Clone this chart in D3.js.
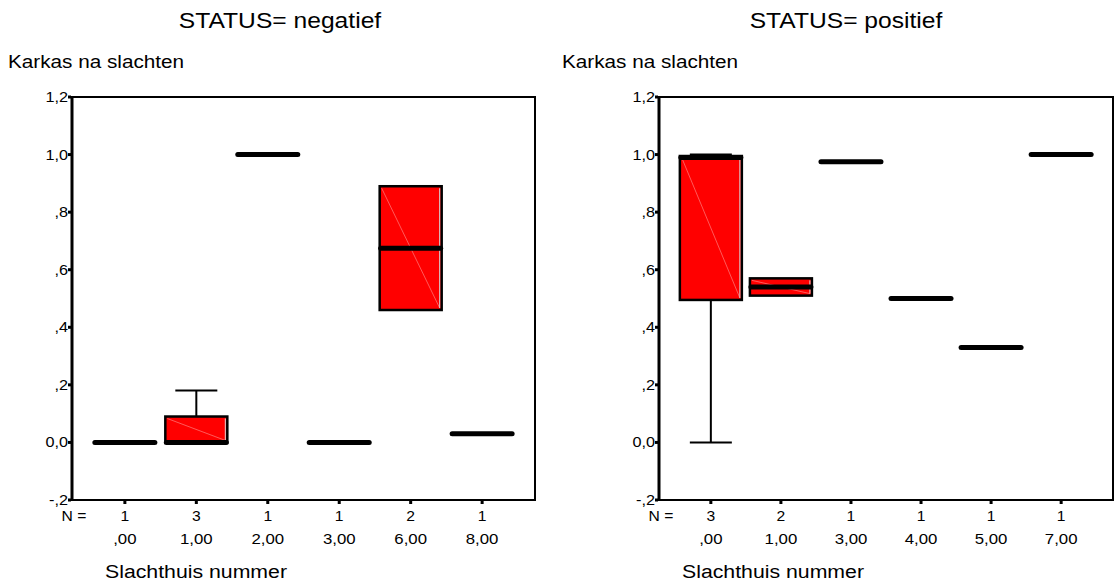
<!DOCTYPE html>
<html>
<head>
<meta charset="utf-8">
<script src="https://cdn.jsdelivr.net/npm/d3@7"></script>
<style>
  body { margin: 0; background: #fff; }
  text { font-family: "Liberation Sans", Arial, sans-serif; fill: #000; }
</style>
</head>
<body>
<div id="chart"></div>
<script>
// data
var negCats = [",00", "1,00", "2,00", "3,00", "6,00", "8,00"];
var negValues = [[0], [0, 0, 0.18], [1.0], [0], [0.46, 0.89], [0.03]];
var posCats = [",00", "1,00", "3,00", "4,00", "5,00", "7,00"];
var posValues = [[0, 0.99, 1.0], [0.51, 0.57], [0.975], [0.5], [0.33], [1.0]];
var yTicks = [-0.2, 0, 0.2, 0.4, 0.6, 0.8, 1.0, 1.2];
var yTickLabels = ["-,2", "0,0", ",2", ",4", ",6", ",8", "1,0", "1,2"];

var width = 1115, height = 583;

var svg = d3.select("#chart")
    .append("svg")
    .attr("width", width)
    .attr("height", height);

svg.append("rect").attr("width", width).attr("height", height).attr("fill", "#fff");

var y = d3.scaleLinear().domain([-0.2, 1.2]).range([500, 97]);

// text helper, the original lettering is a bit wide
function txt(sel, x, yy, s, size, anchor) {
    return sel.append("text")
        .attr("transform", "translate(" + x + "," + yy + ") scale(1.12,1)")
        .attr("text-anchor", anchor || "start")
        .style("font-size", size + "px")
        .text(s);
}

// tukey hinges
function stats(vals) {
    var v = vals.slice().sort(d3.ascending);
    var n = v.length;
    var half = Math.ceil(n / 2);
    return {
        min: v[0],
        max: v[n - 1],
        med: d3.median(v),
        q1: d3.median(v.slice(0, half)),
        q3: d3.median(v.slice(n - half))
    };
}

function panel(title, cats, values, p) {
    var g = svg.append("g");

    txt(g, p.titleX, 28, title, 22, "middle");
    txt(g, p.ylabX, 68, "Karkas na slachten", 18.5);
    txt(g, p.xlabX, 578, "Slachthuis nummer", 19);

    var x = d3.scalePoint().domain(cats).range([p.x0, p.x1]).padding(0.74);

    // frame
    g.append("path")
        .attr("d", "M" + p.x0 + "," + y(1.2) + "H" + p.x1 + "V" + y(-0.2) + "H" + p.x0)
        .attr("fill", "none").attr("stroke", "#000").attr("stroke-width", 2);
    g.append("line")
        .attr("x1", p.x0).attr("x2", p.x0)
        .attr("y1", y(1.2) - 1).attr("y2", y(-0.2) + 1)
        .attr("stroke", "#000").attr("stroke-width", 3);

    // y ticks
    yTicks.forEach(function (t, i) {
        g.append("rect").attr("x", p.x0 - 4).attr("y", y(t) - 1.5)
            .attr("width", 3).attr("height", 3).attr("fill", "#000");
        txt(g, p.x0 - 4, y(t) + 5, yTickLabels[i], 14.5, "end");
    });

    // x ticks, N counts, category labels
    txt(g, p.nX, 521, "N =", 14, "middle");
    cats.forEach(function (c, i) {
        g.append("rect").attr("x", x(c) - 1.5).attr("y", y(-0.2) + 1)
            .attr("width", 3).attr("height", 3).attr("fill", "#000");
        txt(g, x(c), 521, String(values[i].length), 14, "middle");
        txt(g, x(c), 544, c, 15, "middle");
    });

    var bw = 62, cap = 42;

    cats.forEach(function (c, i) {
        var s = stats(values[i]);
        var cx = x(c), left = cx - bw / 2;

        // whiskers
        if (s.max > s.q3 + 1e-9) {
            g.append("line").attr("x1", cx).attr("x2", cx).attr("y1", y(s.q3)).attr("y2", y(s.max))
                .attr("stroke", "#000").attr("stroke-width", 2);
            g.append("line").attr("x1", cx - cap / 2).attr("x2", cx + cap / 2).attr("y1", y(s.max)).attr("y2", y(s.max))
                .attr("stroke", "#000").attr("stroke-width", 2);
        }
        if (s.min < s.q1 - 1e-9) {
            g.append("line").attr("x1", cx).attr("x2", cx).attr("y1", y(s.q1)).attr("y2", y(s.min))
                .attr("stroke", "#000").attr("stroke-width", 2);
            g.append("line").attr("x1", cx - cap / 2).attr("x2", cx + cap / 2).attr("y1", y(s.min)).attr("y2", y(s.min))
                .attr("stroke", "#000").attr("stroke-width", 2);
        }

        // box
        if (s.q3 > s.q1) {
            g.append("rect")
                .attr("x", left).attr("y", y(s.q3))
                .attr("width", bw).attr("height", y(s.q1) - y(s.q3))
                .attr("fill", "#ff0000").attr("stroke", "#000").attr("stroke-width", 2.5);
            g.append("line")
                .attr("x1", left + 2).attr("y1", y(s.q3) + 2)
                .attr("x2", left + bw - 2).attr("y2", y(s.q1) - 2)
                .attr("stroke", "#ff7070").attr("stroke-width", 0.8);
            g.append("line")
                .attr("x1", left + bw - 2).attr("y1", y(s.q3) + 2)
                .attr("x2", left + bw - 2).attr("y2", y(s.q1) - 2)
                .attr("stroke", "#d8d8d8").attr("stroke-width", 1);
        }

        // median
        g.append("line")
            .attr("x1", left + 1).attr("x2", left + bw - 1)
            .attr("y1", y(s.med)).attr("y2", y(s.med))
            .attr("stroke", "#000").attr("stroke-width", 5)
            .attr("stroke-linecap", "round");
    });
}

panel("STATUS= negatief", negCats, negValues,
    { x0: 72, x1: 535, titleX: 280, ylabX: 8, xlabX: 105, nX: 74 });
panel("STATUS= positief", posCats, posValues,
    { x0: 659, x1: 1113, titleX: 846, ylabX: 562, xlabX: 682, nX: 661 });
</script>
</body>
</html>
